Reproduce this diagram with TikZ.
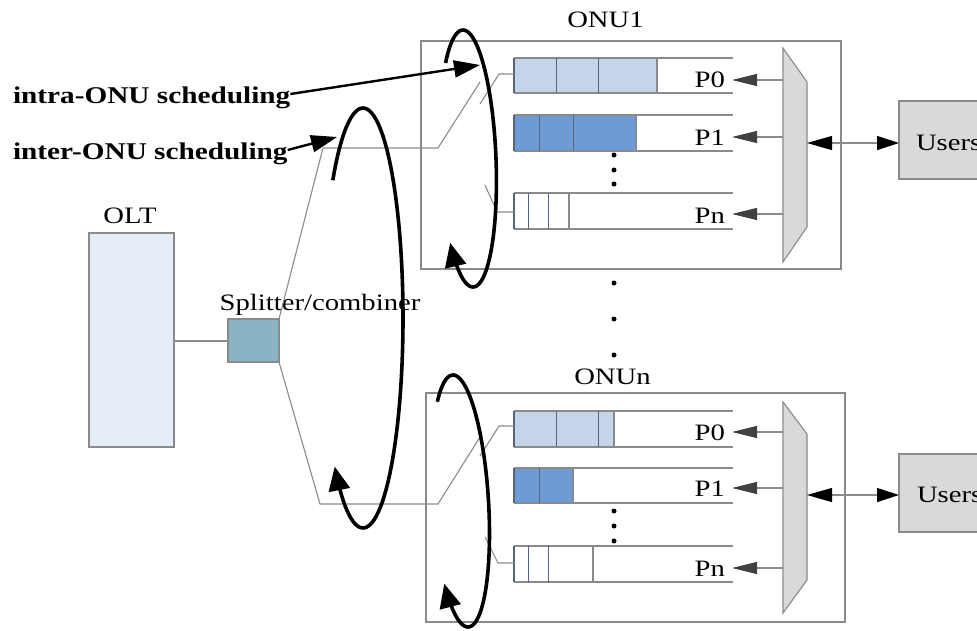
\documentclass[tikz,border=0pt]{standalone}
\usepackage{fontspec}
\setmainfont{Liberation Serif}[FakeStretch=1.22]
\usetikzlibrary{arrows.meta}
\definecolor{gline}{HTML}{8A8A8A}
\definecolor{qzero}{HTML}{C5D5E9}
\definecolor{qone}{HTML}{6E9BD5}
\definecolor{qdiv}{HTML}{56657A}
\definecolor{oltfill}{HTML}{E5EDF8}
\definecolor{splfill}{HTML}{8AB3C3}
\definecolor{muxfill}{HTML}{D9D9D9}
\definecolor{pdark}{HTML}{404040}
\newcommand{\myqueue}[5]{%
  \fill[#4] (514,#1) rectangle (#3,#2);
  \draw[gl] (514,#1) -- (733,#1) (514,#2) -- (733,#2) (#3,#1) -- (#3,#2);
  \draw[qdiv, line width=1.1pt] (514,#1) -- (514,#2);
  \foreach \d in {#5} \draw[qdiv, line width=1pt] (\d,#1) -- (\d,#2);
}
\begin{document}
\begin{tikzpicture}[x=1pt,y=-1pt,
  lab/.style={font=\fontsize{23.5}{28}\selectfont, inner sep=0pt, outer sep=0pt, anchor=base},
  blab/.style={font=\fontsize{24}{29}\selectfont\bfseries, inner sep=0pt, outer sep=0pt, anchor=base west},
  gl/.style={draw=gline, line width=1.1pt},
  boxs/.style={draw=gline, line width=1.1pt, inner sep=0pt, outer sep=0pt, anchor=north west},
  muxs/.style={draw=gline, fill=muxfill, line width=1.1pt},
  parrow/.style={gl, -{Triangle[length=25pt,width=12pt,color=pdark]}},
  darrow/.style={gl, {Triangle[length=25pt,width=14pt,color=black]}-{Triangle[length=22pt,width=14pt,color=black]}},
  sched/.style={line width=3.6pt, -{Triangle[length=24pt,width=21pt]}},
  lblarrow/.style={line width=2.4pt, -{Triangle[length=26pt,width=17pt]}},
  dot/.style={circle, fill=black, inner sep=0pt, minimum size=5pt}
]
\useasboundingbox (0,0) rectangle (977,630);
\clip (0,0) rectangle (977,630);

% ---------- boxes ----------
\node[boxs, fill=oltfill, minimum width=85, minimum height=214] (olt) at (89,233) {};
\node[boxs, fill=splfill, minimum width=51, minimum height=43] (spl) at (228,319) {};
\node[boxs, minimum width=420, minimum height=228] (onu1) at (421,41) {};
\node[boxs, minimum width=419, minimum height=229] (onun) at (426,393) {};
\node[boxs, fill=muxfill, minimum width=100, minimum height=78] (users1) at (899,101) {};
\node[boxs, fill=muxfill, minimum width=100, minimum height=78] (usersn) at (899,454) {};

% ---------- labels ----------
\node[lab] (oltlab) at (130,223) {OLT};
\node[lab] (spllab) at (320,310) {Splitter/combiner};
\node[lab] (onu1lab) at (605.5,27) {ONU1};
\node[lab] (onunlab) at (612.5,384) {ONUn};
\node[lab, anchor=base west] (u1lab) at (916,150) {Users};
\node[lab, anchor=base west] (unlab) at (917,502) {Users};
\node[blab] (intra) at (13,103) {intra-ONU scheduling};
\node[blab] (inter) at (13,159) {inter-ONU scheduling};

% ---------- fibre ----------
\coordinate (f1a) at (323,148);
\coordinate (f1b) at (438,148);
\coordinate (f1c) at (480,82);
\coordinate (fna) at (320,504);
\coordinate (fnb) at (438,504);
\coordinate (fnc) at (480,437);
\draw[gl] (olt.east |- 0,341) -- (spl.west |- 0,341);
\draw[gl] (spl.north east) -- (f1a) -- (f1b) -- (f1c);
\draw[gl] (spl.south east) -- (fna) -- (fnb) -- (fnc);

% ---------- ONU1 queues ----------
\myqueue{58}{93}{657}{qzero}{556,598}
\myqueue{115}{151}{636}{qone}{539,573}
\myqueue{193}{229}{569}{white}{528,548}
\draw[gl] (514,74) -- (499,74) -- (480,104);
\draw[gl] (514,212) -- (497,212) -- (485,185);
\node[dot] (d11) at (614,155) {};
\node[dot] (d12) at (614,170) {};
\node[dot] (d13) at (614,184) {};

% ---------- ONUn queues ----------
\myqueue{411}{447}{614}{qzero}{556,598}
\myqueue{468}{503}{573}{qone}{539}
\myqueue{546}{582}{593}{white}{528,548}
\draw[gl] (514,426) -- (499,426) -- (480,456);
\draw[gl] (514,563) -- (498,563) -- (485,537);
\node[dot] (dn1) at (614,511) {};
\node[dot] (dn2) at (614,526) {};
\node[dot] (dn3) at (614,541) {};

% dots between ONUs
\node[dot] (dm1) at (614,283) {};
\node[dot] (dm2) at (614,319) {};
\node[dot] (dm3) at (614,355) {};

% ---------- multiplexers ----------
\coordinate (m1a) at (783,48);
\coordinate (m1b) at (807,82);
\coordinate (m1c) at (807,227);
\coordinate (m1d) at (783,262);
\draw[muxs] (m1a) -- (m1b) -- (m1c) -- (m1d) -- cycle;
\coordinate (mna) at (783,402);
\coordinate (mnb) at (807,434);
\coordinate (mnc) at (807,580);
\coordinate (mnd) at (783,613);
\draw[muxs] (mna) -- (mnb) -- (mnc) -- (mnd) -- cycle;

% P labels and arrows, ONU1
\node[lab, anchor=base east] (p10) at (725,87) {P0};
\node[lab, anchor=base east] (p11) at (725,145) {P1};
\node[lab, anchor=base east] (p1n) at (725,223) {Pn};
\draw[parrow] (783,80) -- (732,80);
\draw[parrow] (783,137) -- (732,137);
\draw[parrow] (783,214) -- (732,214);
% P labels and arrows, ONUn
\node[lab, anchor=base east] (pn0) at (725,440) {P0};
\node[lab, anchor=base east] (pn1) at (725,496) {P1};
\node[lab, anchor=base east] (pnn) at (725,576) {Pn};
\draw[parrow] (783,432) -- (732,432);
\draw[parrow] (783,488) -- (732,488);
\draw[parrow] (783,568) -- (732,568);

% users arrows
\coordinate (mx1) at (807,143);
\coordinate (mxn) at (807,495);
\draw[darrow] (mx1) -- (mx1 -| users1.west);
\draw[darrow] (mxn) -- (mxn -| usersn.west);

% ---------- scheduling loops ----------
\draw[sched] plot[domain=-139:135, samples=90, smooth, variable=\t]
  ({363+40*cos(\t)}, {318+210*sin(\t)});
\draw[sched] plot[domain=-132:139, samples=90, smooth, variable=\t]
  ({468+28*cos(\t)+5*sin(\t)}, {158.5+128.5*sin(\t)});
\draw[sched] plot[domain=-128:139, samples=90, smooth, variable=\t]
  ({460.5+28*cos(\t)+7.5*sin(\t)}, {501+126*sin(\t)});

\coordinate (intratip) at (480,65);
\coordinate (intertip) at (337,137);
\draw[lblarrow] (intra.east |- 0,94) -- (intratip);
\draw[lblarrow] (inter.east |- 0,150) -- (intertip);
\end{tikzpicture}
\end{document}
